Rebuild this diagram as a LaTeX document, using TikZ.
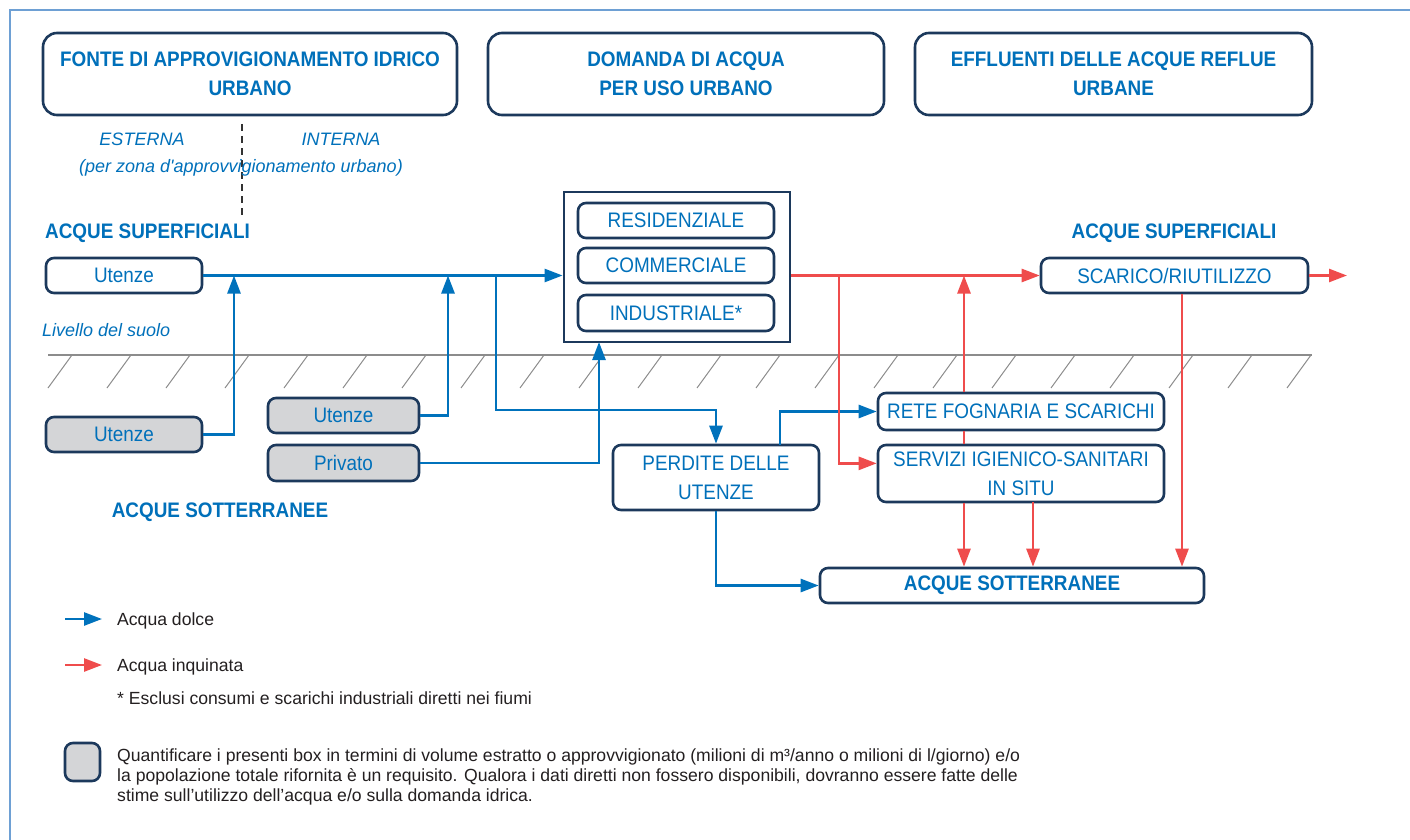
\documentclass[tikz,border=0pt]{standalone}
\usepackage{fontspec}
\setmainfont{Liberation Sans}[FakeStretch=0.9]
\newfontfamily\plainfont{Liberation Sans}
\usetikzlibrary{arrows.meta,calc}

\definecolor{txtblue}{RGB}{0,112,186}
\definecolor{navy}{RGB}{28,57,92}
\definecolor{flowblue}{RGB}{0,114,188}
\definecolor{flowred}{RGB}{239,76,76}
\definecolor{boxgray}{RGB}{212,213,215}
\definecolor{frameblue}{RGB}{110,160,212}
\definecolor{groundgray}{RGB}{140,140,140}
\definecolor{legendtext}{RGB}{35,31,32}

\begin{document}
\begin{tikzpicture}[x=1pt,y=-1pt,
  box/.style={draw=navy, line width=2.6pt, rounded corners=8pt, fill=white,
    text=txtblue, font=\fontsize{21}{26}\selectfont, inner sep=0pt, align=center},
  gbox/.style={box, fill=boxgray},
  head/.style={box, rounded corners=14pt, font=\fontsize{21}{29}\selectfont\bfseries},
  zone/.style={text=txtblue, font=\fontsize{21}{26}\selectfont\bfseries, inner sep=0pt},
  note/.style={text=txtblue, font=\plainfont\itshape\fontsize{18}{22}\selectfont, inner sep=0pt},
  legend/.style={text=legendtext, font=\plainfont\fontsize{17.6}{20}\selectfont, inner sep=0pt, align=left},
  fresh/.style={draw=flowblue, line width=2.6pt, -{Triangle[length=18pt,width=13pt]}},
  waste/.style={draw=flowred, line width=2.6pt, -{Triangle[length=18pt,width=13pt]}},
]
\useasboundingbox (0,0) rectangle (1410,840);

% outer frame
\draw[frameblue, line width=1.5pt] (10,840) -- (10,10) -- (1410,10);

% ground level with hatching
\draw[groundgray, line width=1.3pt] (48,355) -- (1312,355);
\foreach \k in {0,...,21}
  \draw[groundgray, line width=1pt] ({72+59*\k},355) -- ++(-24,33);

% divider between external and internal sources
\draw[black!80, line width=2.8pt, dash pattern=on 7pt off 5pt] (242,124) -- (242,215);

% header boxes
\node[head, minimum width=414pt, minimum height=82pt] (src) at (250,74)
  {FONTE DI APPROVIGIONAMENTO IDRICO\\URBANO};
\node[head, minimum width=396pt, minimum height=82pt] (use) at (686,74)
  {DOMANDA DI ACQUA\\PER USO URBANO};
\node[head, minimum width=397pt, minimum height=82pt] (eff) at (1113.5,74)
  {EFFLUENTI DELLE ACQUE REFLUE\\URBANE};

% zone labels
\node[note] (ext) at (142,139) {ESTERNA};
\node[note] (int) at (341,139) {INTERNA};
\node[note] (zonenote) at (241,168) {(per zona d'approvvigionamento urbano)};
\node[zone, anchor=west] (surfL) at (45,233) {ACQUE SUPERFICIALI};
\node[zone] (surfR) at (1174,233) {ACQUE SUPERFICIALI};
\node[note, anchor=west] (ground) at (42,330) {Livello del suolo};
\node[zone] (under) at (220,512) {ACQUE SOTTERRANEE};

% supply boxes
\node[box, minimum width=156pt, minimum height=35pt] (utS) at (124,275.5) {Utenze};
\node[gbox, minimum width=156pt, minimum height=35pt] (utG1) at (124,434.5) {Utenze};
\node[gbox, minimum width=151pt, minimum height=35pt] (utG2) at (343.5,415.5) {Utenze};
\node[gbox, minimum width=151pt, minimum height=36pt] (priv) at (343.5,463) {Privato};

% demand
\node[draw=navy, line width=2.8pt, fill=white, minimum width=226pt, minimum height=150pt] (dem) at (677,267) {};
\node[box, minimum width=196pt, minimum height=35pt] (res) at (676,220.5) {RESIDENZIALE};
\node[box, minimum width=196pt, minimum height=35pt] (com) at (676,265.5) {COMMERCIALE};
\node[box, minimum width=196pt, minimum height=36pt] (ind) at (676,313) {INDUSTRIALE*};

% effluent side
\node[box, minimum width=267pt, minimum height=35pt] (scar) at (1174.5,275.5) {SCARICO/RIUTILIZZO};
\node[box, minimum width=286pt, minimum height=37pt] (rete) at (1021,411.5) {RETE FOGNARIA E SCARICHI};
\node[box, minimum width=286pt, minimum height=57pt, font=\fontsize{21}{29}\selectfont] (serv) at (1021,473.5) {SERVIZI IGIENICO-SANITARI\\IN SITU};
\node[box, minimum width=206pt, minimum height=65pt, font=\fontsize{21}{29}\selectfont] (perd) at (716,477.5) {PERDITE DELLE\\UTENZE};
\node[box, minimum width=384pt, minimum height=35pt, font=\fontsize{21}{26}\selectfont\bfseries] (aqs) at (1012,585.5) {ACQUE SOTTERRANEE};

% junction points
\coordinate (j1) at (234,275.5);
\coordinate (j2) at (448,275.5);
\coordinate (j3) at (599,342);
\coordinate (b1) at (496,275.5);
\coordinate (b2) at (496,410);
\coordinate (p1) at (780,445);
\coordinate (r1) at (839,275.5);
\coordinate (r3) at (964,275.5);
\coordinate (r4) at (1033,502);
\coordinate (r5) at (1182,293);
\coordinate (out) at (1347,275.5);

% fresh water flows
\draw[fresh] (utS.east) -- (utS.east -| dem.west);
\draw[fresh] (utG1.east) -| (j1);
\draw[fresh] (utG2.east) -| (j2);
\draw[fresh] (priv.east) -| (j3);
\draw[fresh] (b1) -- (b2) -| (perd.north);
\draw[fresh] (p1) |- (rete.west);
\draw[fresh] (perd.south) |- (aqs.west);

% polluted water flows
\draw[waste] (scar.west -| dem.east) -- (scar.west);
\draw[waste] (r1) |- ($(serv.north west)!0.33!(serv.south west)$);
\draw[waste] (r3 |- rete.north) -- (r3);
\draw[waste, -] (r3 |- rete.south) -- (r3 |- serv.north);
\draw[waste] (r3 |- serv.south) -- (r3 |- aqs.north);
\draw[waste] (r4) -- (r4 |- aqs.north);
\draw[waste] (r5 |- scar.south) -- (r5 |- aqs.north);
\draw[waste] (scar.east) -- (out);

% legend
\coordinate (lb0) at (65,619);
\coordinate (lb1) at (102,619);
\coordinate (lr0) at (65,665);
\coordinate (lr1) at (102,665);
\draw[fresh] (lb0) -- (lb1);
\draw[waste] (lr0) -- (lr1);
\node[legend, anchor=base west] (lgb) at (117,625) {Acqua dolce};
\node[legend, anchor=base west] (lgr) at (117,671) {Acqua inquinata};
\node[legend, anchor=base west] (lgs) at (117,704) {* Esclusi consumi e scarichi industriali diretti nei fiumi};
\node[gbox, minimum width=35pt, minimum height=38pt] (lgbox) at (82.5,762) {};
\node[legend, anchor=base west] (lq1) at (117,761) {Quantificare i presenti box in termini di volume estratto o approvvigionato (milioni di m³/anno o milioni di l/giorno) e/o};
\node[legend, anchor=base west] (lq2) at (117,781) {la popolazione totale rifornita è un requisito. Qualora i dati diretti non fossero disponibili, dovranno essere fatte delle};
\node[legend, anchor=base west] (lq3) at (117,801) {stime sull’utilizzo dell’acqua e/o sulla domanda idrica.};
\end{tikzpicture}
\end{document}
